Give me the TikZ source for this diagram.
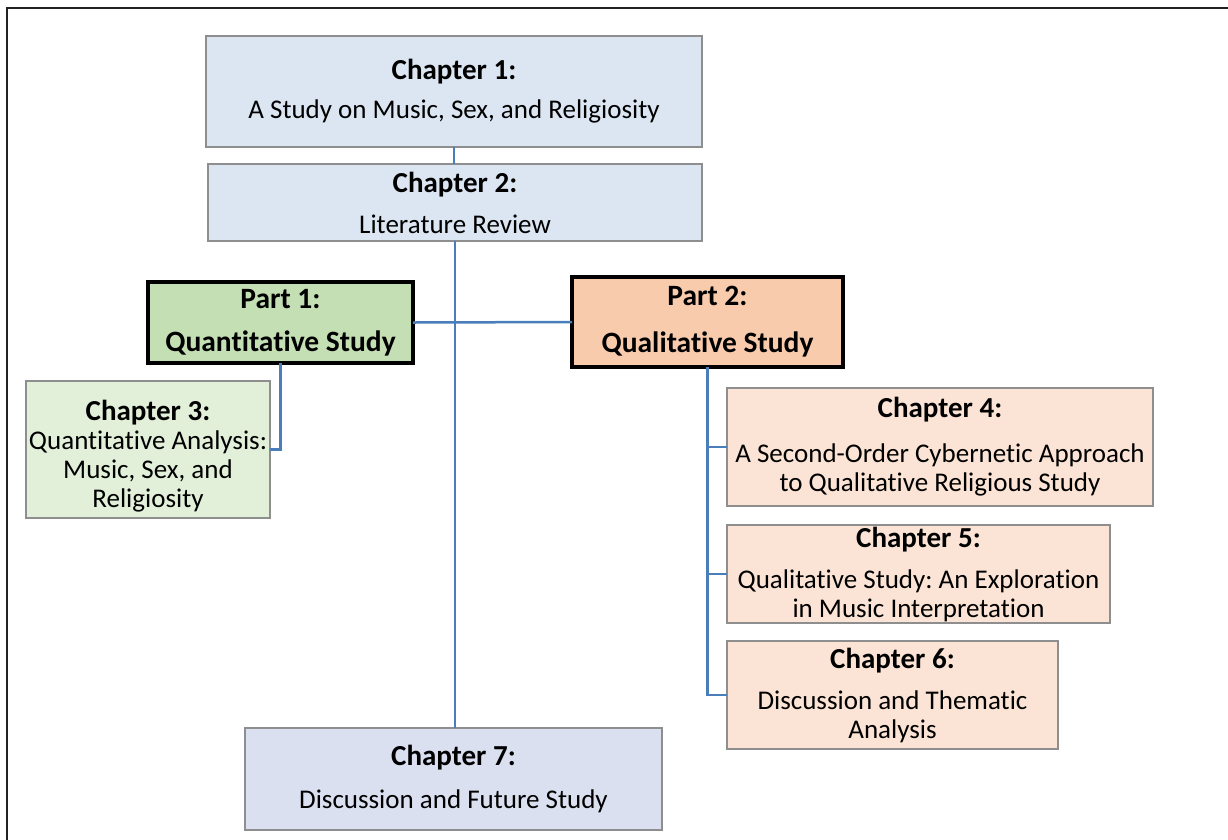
\documentclass[tikz,border=0pt]{standalone}
\usepackage{fontspec}
\setmainfont{Carlito}[Ligatures={NoCommon}]
\frenchspacing
\definecolor{frameclr}{HTML}{222222}
\definecolor{conn}{HTML}{4A7EBB}
\definecolor{chborder}{HTML}{8E8E8E}
\definecolor{blueA}{HTML}{DCE6F2}
\definecolor{blueB}{HTML}{DAE0EF}
\definecolor{greenA}{HTML}{C4DFB3}
\definecolor{greenB}{HTML}{E2EFD9}
\definecolor{orangeA}{HTML}{F8CBAD}
\definecolor{orangeB}{HTML}{FBE4D5}
\newcommand{\chttl}[1]{{\fontsize{29}{29}\selectfont\bfseries #1}}
\tikzset{
  chbox/.style={draw=chborder, line width=1.5pt, inner sep=0pt, outer sep=0pt, align=center,
    font=\fontsize{27}{29}\selectfont, text=black},
  partbox/.style={draw=black, line width=3.5pt, inner sep=0pt, outer sep=0pt, align=center,
    font=\fontsize{29.5}{30}\selectfont\bfseries, text=black},
  connector/.style={draw=conn, line width=2.5pt},
}
\begin{document}
\begin{tikzpicture}[x=1pt,y=-1pt]
\useasboundingbox (0,0) rectangle (1228,839);
\draw[frameclr, line width=2pt] (6.5,7.5) rectangle (1250,860);
% boxes
\node[chbox, fill=blueA, minimum width=496pt, minimum height=111pt] (ch1) at (454,91.5)
  {\chttl{Chapter 1:}\\[10pt]A Study on Music, Sex, and Religiosity};
\node[chbox, fill=blueA, minimum width=494pt, minimum height=77pt] (ch2) at (455,202.5)
  {\chttl{Chapter 2:}\\[12pt]Literature Review};
\node[partbox, fill=greenA, minimum width=265pt, minimum height=81pt] (p1) at (280.5,322.5)
  {Part 1:\\[13pt]Quantitative Study};
\node[partbox, fill=orangeA, minimum width=271pt, minimum height=90pt] (p2) at (707.5,322)
  {Part 2:\\[17pt]Qualitative Study};
\node[chbox, fill=greenB, minimum width=244pt, minimum height=137pt] (ch3) at (148,449.5)
  {\rule{0pt}{34pt}\chttl{Chapter 3:}\\Quantitative Analysis:\\Music, Sex, and\\Religiosity};
\node[chbox, fill=orangeB, minimum width=426pt, minimum height=118pt] (ch4) at (940,447)
  {\chttl{Chapter 4:}\\[16pt]A Second-Order Cybernetic Approach\\to Qualitative Religious Study};
\node[chbox, fill=orangeB, minimum width=383pt, minimum height=98pt] (ch5) at (918.5,574)
  {\chttl{Chapter 5:}\\[12pt]Qualitative Study: An Exploration\\in Music Interpretation};
\node[chbox, fill=orangeB, minimum width=331pt, minimum height=108pt] (ch6) at (892.5,695)
  {\chttl{Chapter 6:}\\[12pt]Discussion and Thematic\\Analysis};
\node[chbox, fill=blueB, minimum width=417pt, minimum height=102pt] (ch7) at (453.5,779)
  {\chttl{Chapter 7:}\\[14pt]Discussion and Future Study};
% connectors
\draw[connector] (ch1.south) -- (ch1.south |- ch2.north);
\draw[connector] (ch2.south) -- (ch2.south |- ch7.north);
\draw[connector] (p1.east) -- (p2.west);
\draw[connector] (p1.south) -- (p1.south |- ch3.east) -- (ch3.east);
\draw[connector] (p2.south) -- (p2.south |- ch6.west) -- (ch6.west);
\draw[connector] (p2.south |- ch4.west) -- (ch4.west);
\draw[connector] (p2.south |- ch5.west) -- (ch5.west);
\end{tikzpicture}
\end{document}
